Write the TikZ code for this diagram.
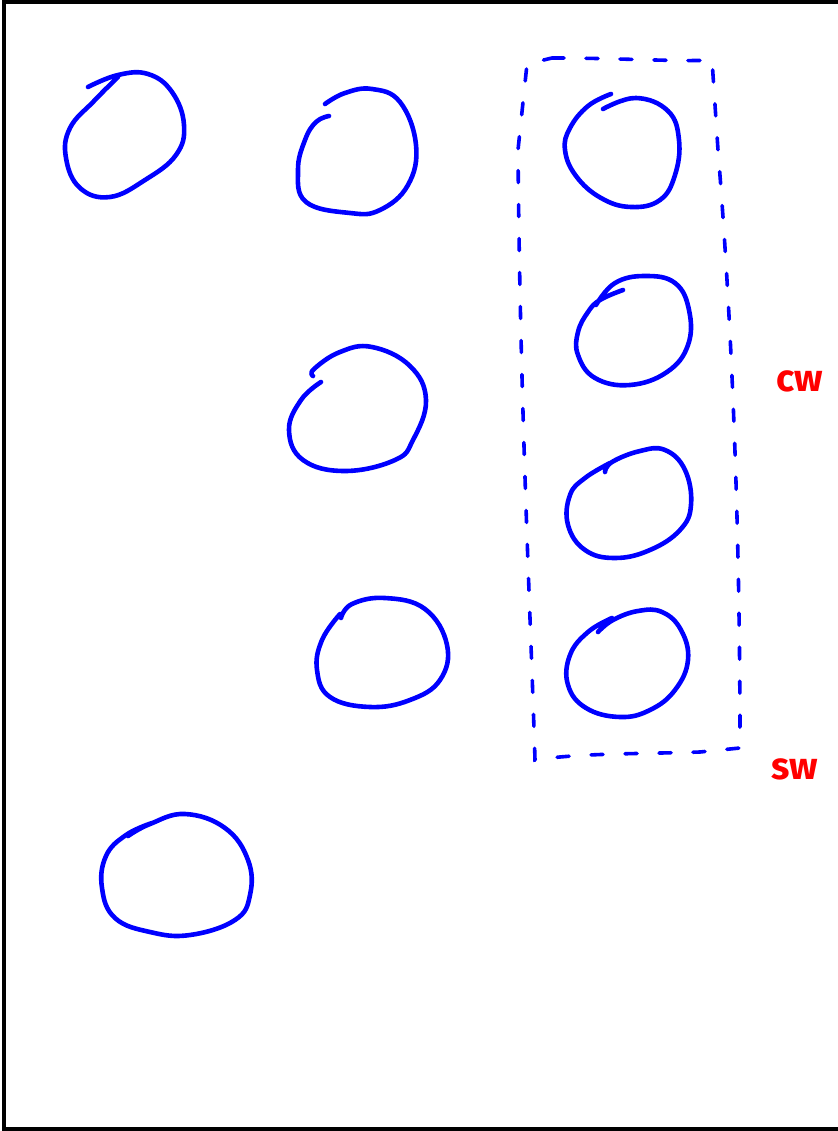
\documentclass[tikz,border=0pt]{standalone}
\usepackage{fontspec}
\setsansfont{Fira Sans}
\begin{document}
\begin{tikzpicture}[x=1pt,y=-1pt,
  blob/.style={draw=blue,line width=4.6pt,line cap=round,line join=round},
  tail/.style={draw=blue,line width=4.6pt,line cap=round},
  grp/.style={draw=blue,line width=3.6pt,line cap=round,dash pattern=on 12pt off 22pt},
  frame/.style={draw=black,line width=3.2pt},
  lab/.style={text=red,font=\sffamily\bfseries\fontsize{38}{40}\selectfont,inner sep=0pt}]
\useasboundingbox (0,0) rectangle (837,1131);
\draw[frame] (860,2) -- (4,2) -- (4,1129) -- (860,1129);
% circles
\coordinate (c1) at (125,135);
\coordinate (c2) at (357,151);
\coordinate (c3) at (357,410);
\coordinate (c4) at (382,653);
\coordinate (c5) at (177,875);
\coordinate (c6) at (622,152);
\coordinate (c7) at (633,331);
\coordinate (c8) at (628,503);
\coordinate (c9) at (627,663);
% circle 1
\draw[blob] plot[smooth,tension=0.7] coordinates {(88,87) (118,75) (148,74) (172,92) (184,125) (176,155) (145,180) (110,197) (80,188) (66,158) (70,128) (94,101) (118,77)};
% circle 2
\draw[blob] plot[smooth,tension=0.7] coordinates {(325,104) (345,93) (372,89) (400,102) (416,145) (408,185) (380,210) (350,213) (306,202) (298,170) (305,140) (316,122) (329,116)};
% circle 3
\draw[blob] plot[smooth,tension=0.7] coordinates {(321,382) (301,400) (289,430) (303,460) (345,471) (395,460) (413,440) (426,400) (410,366) (372,347) (340,352) (314,369) (313,376)};
% circle 4
\draw[blob] plot[smooth,tension=0.7] coordinates {(341,618) (352,604) (385,598) (425,609) (447,645) (440,680) (410,700) (370,707) (330,697) (317,670) (322,640) (340,614)};
% circle 5
\draw[blob] plot[smooth,tension=0.7] coordinates {(128,836) (150,824) (185,814) (225,828) (248,860) (250,895) (235,920) (190,935) (150,932) (115,918) (102,888) (106,856) (126,835) (152,823)};
% circle 6
\draw[blob] plot[smooth,tension=0.7] coordinates {(611,94) (588,106) (570,128) (565,150) (576,176) (601,198) (631,207) (660,200) (675,175) (679,140) (668,111) (636,98) (603,109)};
% circle 7
\draw[blob] plot[smooth,tension=0.7] coordinates {(623,290) (600,300) (588,312) (578,332) (578,355) (595,378) (630,385) (667,372) (688,345) (689,310) (675,283) (645,276) (615,283) (596,305)};
% circle 8
\draw[blob] plot[smooth,tension=0.7] coordinates {(605,472) (612,462) (640,451) (665,450) (685,470) (691,505) (680,530) (650,550) (615,558) (585,550) (568,525) (570,495) (585,478) (610,463)};
% circle 9
\draw[blob] plot[smooth,tension=0.7] coordinates {(598,632) (613,620) (638,611) (662,612) (681,630) (688,660) (675,690) (650,710) (620,717) (586,708) (568,685) (570,655) (588,632) (612,618)};
% dashed group
\draw[grp] (552,58) .. controls (620,58) and (680,62) .. (712,60) -- (718,150) .. controls (730,300) and (740,500) .. (740,748)
  -- (700,752) .. controls (640,754) and (580,753) .. (535,760) .. controls (530,600) and (520,400) .. (518,150) -- (527,64) -- cycle;
\node[lab] (cw) at (800,381) {cw};
\node[lab] (sw) at (795,769) {sw};
\end{tikzpicture}
\end{document}
